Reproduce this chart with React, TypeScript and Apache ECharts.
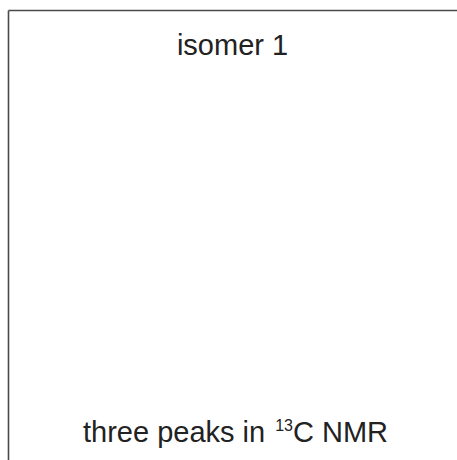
import React, { useEffect, useRef } from "react";
import * as echarts from "echarts";

const topLabel = ["isomer 1"];
const bottomLabelParts = ["three peaks in ", "13", "C NMR"];

export default function App() {
  const ref = useRef<HTMLDivElement>(null);
  useEffect(() => {
    document.body.style.margin = "0";
    const chart = echarts.init(ref.current!, null, { renderer: "svg" });
    const font = "'Liberation Sans', Arial, sans-serif";
    chart.setOption({
      animation: false,
      backgroundColor: "#ffffff",
      graphic: [
        {
          type: "line",
          shape: { x1: 8.5, y1: 10.5, x2: 457, y2: 10.5 },
          style: { stroke: "#4a4a4a", lineWidth: 1.6 },
          silent: true,
        },
        {
          type: "line",
          shape: { x1: 8.5, y1: 10.5, x2: 8.5, y2: 460 },
          style: { stroke: "#4a4a4a", lineWidth: 1.6 },
          silent: true,
        },
        {
          type: "text",
          x: 232.5,
          y: 44.7,
          style: {
            text: topLabel[0],
            fontSize: 29,
            fontFamily: font,
            fill: "#222222",
            align: "center",
            verticalAlign: "middle",
          },
        },
        {
          type: "text",
          x: 235.5,
          y: 431.7,
          style: {
            text: `${bottomLabelParts[0]}{sup|${bottomLabelParts[1]}}${bottomLabelParts[2]}`,
            fontSize: 29,
            fontFamily: font,
            fill: "#222222",
            align: "center",
            verticalAlign: "middle",
            rich: {
              sup: {
                fontSize: 16,
                fontFamily: font,
                fill: "#222222",
                verticalAlign: "top",
                padding: [0, 0, 0, 2],
              },
            },
          },
        },
      ],
    });
    return () => chart.dispose();
  }, []);
  return <div ref={ref} style={{ width: 457, height: 460 }} />;
}
